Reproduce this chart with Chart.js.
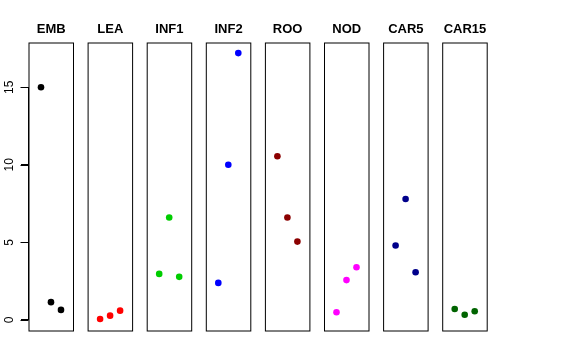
<!DOCTYPE html>
<html><head><meta charset="utf-8">
<script src="https://cdn.jsdelivr.net/npm/chart.js@4/dist/chart.umd.min.js"></script>
<style>
html,body{margin:0;padding:0;background:#fff;}
#wrap{position:relative;width:576px;height:360px;background:#fff;}
#wrap canvas{position:absolute;left:0;top:0;}
</style></head><body><div id="wrap"></div>
<script>
// ---- data ----
const categories = ['EMB','LEA','INF1','INF2','ROO','NOD','CAR5','CAR15'];
const xPositions = [1, 2, 3];
const embValues   = [15.0, 1.15, 0.65];
const leaValues   = [0.06, 0.28, 0.60];
const inf1Values  = [2.97, 6.60, 2.78];
const inf2Values  = [2.39, 10.0, 17.2];
const rooValues   = [10.55, 6.60, 5.05];
const nodValues   = [0.50, 2.57, 3.40];
const car5Values  = [4.80, 7.80, 3.08];
const car15Values = [0.71, 0.34, 0.56];
const yTickValues = [0, 5, 10, 15];
const seriesValues = [embValues, leaValues, inf1Values, inf2Values, rooValues, nodValues, car5Values, car15Values];

// ---- styles / layout ----
const seriesColors = ['#000000','#FF0000','#00CD00','#0000FF','#8B0000','#FF00FF','#00008B','#006400'];
const FONT = '"Liberation Sans", Arial, Helvetica, sans-serif';
const W = 576, H = 360;
const panelLeft0 = 29, panelPitch = 59.1, panelWidth = 44.5;
const panelTop = 43, panelBottom = 331;
const TICK_LEN = 8;

const boxPlugin = {
  id: 'panelBox',
  afterDraw(chart) {
    const a = chart.chartArea, ctx = chart.ctx;
    ctx.save();
    ctx.strokeStyle = '#000';
    ctx.lineWidth = 1;
    ctx.strokeRect(a.left, a.top, a.right - a.left, a.bottom - a.top);
    ctx.restore();
  }
};

// R-style axis: line from first to last tick plus tick marks, at the scale's tick positions
const axisPlugin = {
  id: 'rAxis',
  afterDraw(chart) {
    const s = chart.scales.y;
    if (!s || !s.options.display) return;
    const ctx = chart.ctx;
    const x = Math.round(chart.chartArea.left) - 0.5;
    ctx.save();
    ctx.strokeStyle = '#000';
    ctx.lineWidth = 1;
    ctx.beginPath();
    ctx.moveTo(x, s.getPixelForValue(yTickValues[0]));
    ctx.lineTo(x, s.getPixelForValue(yTickValues[yTickValues.length - 1]));
    yTickValues.forEach(v => {
      const y = Math.round(s.getPixelForValue(v)) + 0.5;
      ctx.moveTo(x - TICK_LEN, y); ctx.lineTo(x, y);
    });
    ctx.stroke();
    ctx.restore();
  }
};

const wrap = document.getElementById('wrap');
categories.forEach((cat, i) => {
  const cv = document.createElement('canvas');
  cv.width = W; cv.height = H;
  cv.style.width = W + 'px'; cv.style.height = H + 'px';
  wrap.appendChild(cv);
  const L = panelLeft0 + i * panelPitch;
  const R = L + panelWidth;
  const color = seriesColors[i];
  const showY = i === 0;
  new Chart(cv, {
    type: 'scatter',
    data: {
      datasets: [{
        data: xPositions.map((x, j) => ({ x: x, y: seriesValues[i][j] })),
        backgroundColor: color,
        borderColor: color,
        borderWidth: 0,
        pointRadius: 3.3,
        pointHoverRadius: 3.3
      }]
    },
    options: {
      responsive: false,
      animation: false,
      devicePixelRatio: 1,
      events: [],
      layout: { padding: { left: showY ? 0 : L, right: W - R, top: 0, bottom: H - panelBottom } },
      plugins: {
        legend: { display: false },
        tooltip: { enabled: false },
        title: {
          display: true, text: cat, fullSize: false, color: '#000',
          font: { family: FONT, size: 13, weight: 'bold', lineHeight: 1.2 },
          padding: { top: 21.7, bottom: panelTop - 21.7 - 15.6 }
        }
      },
      scales: {
        x: { type: 'linear', min: -0.2, max: 4.25, display: false },
        y: {
          type: 'linear', min: -0.71, max: 17.85,
          display: showY,
          position: 'left',
          afterBuildTicks: (s) => { s.ticks = yTickValues.map(v => ({ value: v })); },
          afterFit: (s) => { s.width = showY ? panelLeft0 : 0; },
          border: { display: false },
          grid: { display: true, drawOnChartArea: false, drawTicks: true, tickLength: TICK_LEN, color: '#000000', tickColor: '#000000', tickWidth: 1, lineWidth: 1 },
          ticks: {
            color: '#000', font: { family: FONT, size: 12 },
            minRotation: 90, maxRotation: 90, crossAlign: 'center', padding: 5,
            callback: (v) => String(v)
          }
        }
      }
    },
    plugins: [boxPlugin, axisPlugin]
  });
});
</script>
</body></html>
